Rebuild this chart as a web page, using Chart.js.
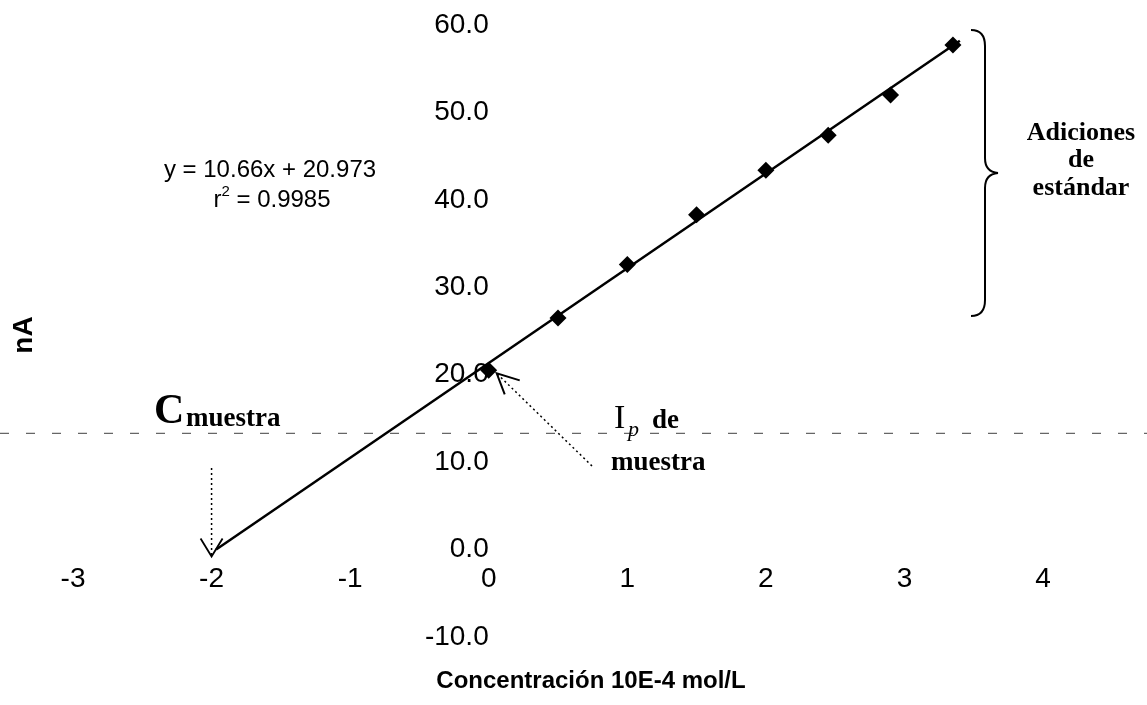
<!DOCTYPE html>
<html>
<head>
<meta charset="utf-8">
<script src="https://cdn.jsdelivr.net/npm/chart.js@4/dist/chart.umd.min.js"></script>
<style>
  html, body { margin: 0; padding: 0; background: #fff; }
  #wrap { width: 1147px; height: 705px; }
</style>
</head>
<body>
<div id="wrap"><canvas id="grafica"></canvas></div>
<script>
// datos (adiciones de estandar)
var concentraciones = [0, 0.5, 1.0, 1.5, 2.0, 2.45, 2.9, 3.35];
var corrientes = [20.5, 26.5, 32.6, 38.3, 43.4, 47.4, 52.0, 57.7];

// recta trazada en la figura (extrapolada hasta y = 0)
var rectaX = [-1.967, 3.4];
var rectaY = [0, 58.2];

var ticksX = [-3, -2, -1, 0, 1, 2, 3, 4];
var ticksY = [-10, 0, 10, 20, 30, 40, 50, 60];

var ecuacion = 'y = 10.66x + 20.973';
var r2 = '0.9985';

var puntos = concentraciones.map(function (c, i) { return { x: c, y: corrientes[i] }; });
var recta = rectaX.map(function (c, i) { return { x: c, y: rectaY[i] }; });

// dibuja textos, llave y flechas encima de la grafica
var anotaciones = {
    id: 'anotaciones',
    afterDraw: function (chart) {
        var ctx = chart.ctx;
        var sx = chart.scales.x;
        var sy = chart.scales.y;
        ctx.save();

        // linea discontinua horizontal (marca del escaneo)
        var yd = sy.getPixelForValue(13.3);
        ctx.strokeStyle = '#666';
        ctx.lineWidth = 1.2;
        ctx.setLineDash([9, 17]);
        ctx.beginPath();
        ctx.moveTo(0, yd);
        ctx.lineTo(1147, yd);
        ctx.stroke();
        ctx.setLineDash([]);

        ctx.fillStyle = '#000';
        ctx.strokeStyle = '#000';

        // ecuacion
        ctx.font = '24px "Liberation Sans"';
        ctx.textAlign = 'center';
        ctx.textBaseline = 'alphabetic';
        ctx.fillText(ecuacion, 270, 177);
        var resto = ' = ' + r2;
        var wr = ctx.measureText('r').width;
        ctx.font = '15px "Liberation Sans"';
        var w2 = ctx.measureText('2').width;
        ctx.font = '24px "Liberation Sans"';
        var wResto = ctx.measureText(resto).width;
        var x0 = 272 - (wr + w2 + wResto) / 2;
        ctx.textAlign = 'left';
        ctx.fillText('r', x0, 207);
        ctx.font = '15px "Liberation Sans"';
        ctx.fillText('2', x0 + wr, 196);
        ctx.font = '24px "Liberation Sans"';
        ctx.fillText(resto, x0 + wr + w2, 207);

        // titulo eje y
        ctx.save();
        ctx.translate(24, 335);
        ctx.rotate(-Math.PI / 2);
        ctx.font = 'bold 28px "Liberation Sans"';
        ctx.textAlign = 'center';
        ctx.textBaseline = 'middle';
        ctx.fillText('nA', 0, 0);
        ctx.restore();

        // titulo eje x
        ctx.font = 'bold 24px "Liberation Sans"';
        ctx.textAlign = 'center';
        ctx.textBaseline = 'middle';
        ctx.fillText('Concentración 10E-4 mol/L', 591, 681);

        // C muestra
        ctx.textAlign = 'left';
        ctx.textBaseline = 'alphabetic';
        ctx.font = 'bold 42px "Liberation Serif"';
        ctx.fillText('C', 154, 423);
        ctx.font = 'bold 27px "Liberation Serif"';
        ctx.fillText('muestra', 186, 426);

        // I_p de muestra
        ctx.font = '34px "Liberation Serif"';
        ctx.fillText('I', 614, 428);
        ctx.font = 'italic 22px "Liberation Serif"';
        ctx.fillText('p', 628, 436);
        ctx.font = 'bold 27px "Liberation Serif"';
        ctx.fillText('de', 652, 428);
        ctx.fillText('muestra', 611, 470);

        // Adiciones de estandar
        ctx.textAlign = 'center';
        ctx.font = 'bold 26px "Liberation Serif"';
        ctx.fillText('Adiciones', 1081, 140);
        ctx.fillText('de', 1081, 167);
        ctx.fillText('estándar', 1081, 195);

        // llave
        ctx.lineWidth = 2;
        ctx.beginPath();
        ctx.moveTo(971, 30);
        ctx.quadraticCurveTo(985, 30, 985, 46);
        ctx.lineTo(985, 158);
        ctx.quadraticCurveTo(985, 172, 998, 173);
        ctx.quadraticCurveTo(985, 174, 985, 188);
        ctx.lineTo(985, 300);
        ctx.quadraticCurveTo(985, 316, 971, 316);
        ctx.stroke();

        // flecha vertical punteada hacia C muestra
        var xa = sx.getPixelForValue(-2);
        var ya = sy.getPixelForValue(0) + 7;
        ctx.lineWidth = 1.5;
        ctx.setLineDash([2, 3]);
        ctx.beginPath();
        ctx.moveTo(xa, 468);
        ctx.lineTo(xa, ya);
        ctx.stroke();
        ctx.setLineDash([]);
        ctx.lineWidth = 1.8;
        ctx.beginPath();
        ctx.moveTo(xa - 11, ya - 18);
        ctx.lineTo(xa, ya);
        ctx.lineTo(xa + 11, ya - 18);
        ctx.stroke();

        // flecha punteada hacia I_p
        var xp = sx.getPixelForValue(concentraciones[0]) + 8;
        var yp = sy.getPixelForValue(corrientes[0]) + 3;
        ctx.lineWidth = 1.5;
        ctx.setLineDash([2, 3]);
        ctx.beginPath();
        ctx.moveTo(592, 466);
        ctx.lineTo(xp, yp);
        ctx.stroke();
        ctx.setLineDash([]);
        ctx.lineWidth = 2;
        ctx.beginPath();
        ctx.moveTo(xp + 23, yp + 7);
        ctx.lineTo(xp, yp);
        ctx.lineTo(xp + 8, yp + 21);
        ctx.stroke();

        ctx.restore();
    }
};

var config = {
    type: 'scatter',
    data: {
        datasets: [{
            label: 'Adiciones',
            data: puntos,
            pointStyle: 'rectRot',
            pointRadius: 8.5,
            backgroundColor: '#000',
            borderColor: '#000',
            borderWidth: 0,
            showLine: false
        }, {
            label: 'Recta',
            data: recta,
            showLine: true,
            borderColor: '#000',
            borderWidth: 2.5,
            pointRadius: 0,
            fill: false
        }]
    },
    options: {
        responsive: true,
        maintainAspectRatio: false,
        animation: false,
        layout: {
            padding: { left: 73, right: 104, top: 25, bottom: 68 }
        },
        plugins: {
            legend: { display: false },
            tooltip: { enabled: false },
            title: { display: false }
        },
        scales: {
            x: {
                type: 'linear',
                position: { y: 0 },
                min: -3,
                max: 4,
                afterBuildTicks: function (axis) {
                    axis.ticks = ticksX.map(function (v) { return { value: v }; });
                },
                grid: { display: false, drawTicks: true, tickLength: 13 },
                border: { display: false },
                ticks: {
                    color: '#000',
                    padding: 0,
                    font: { family: 'Liberation Sans', size: 28 },
                    callback: function (v) { return String(v); }
                }
            },
            y: {
                type: 'linear',
                position: { x: 0 },
                min: -10,
                max: 60,
                afterBuildTicks: function (axis) {
                    axis.ticks = ticksY.map(function (v) { return { value: v }; });
                },
                grid: { display: false, drawTicks: true, tickLength: 28 },
                border: { display: false },
                ticks: {
                    color: '#000',
                    padding: 0,
                    font: { family: 'Liberation Sans', size: 28 },
                    callback: function (v) { return Number(v).toFixed(1); }
                }
            }
        }
    },
    plugins: [anotaciones]
};

var ctx = document.getElementById('grafica').getContext('2d');
new Chart(ctx, config);
</script>
</body>
</html>
